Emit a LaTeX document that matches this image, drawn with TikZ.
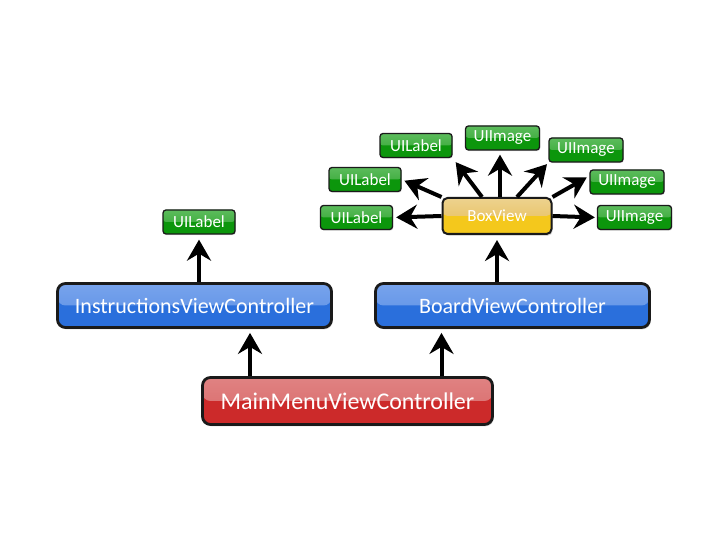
\documentclass[tikz,border=0pt]{standalone}
\usepackage{fontspec}
\setmainfont{Carlito}
\usetikzlibrary{arrows.meta,shadows}
\definecolor{bluetopA}{HTML}{77A3EC}
\definecolor{bluetopB}{HTML}{5A8FE6}
\definecolor{bluebot}{HTML}{2A6FDC}
\definecolor{redtopA}{HTML}{E08282}
\definecolor{redtopB}{HTML}{D86868}
\definecolor{redbot}{HTML}{CC2A2A}
\definecolor{yeltopA}{HTML}{EDD28E}
\definecolor{yeltopB}{HTML}{E6BC52}
\definecolor{yelbot}{HTML}{F4C81C}
\definecolor{grntopA}{HTML}{5CBC5C}
\definecolor{grntopB}{HTML}{2CA42C}
\definecolor{grnbot}{HTML}{0C960C}
\definecolor{edge}{HTML}{1A1A1A}
\tikzset{
  gloss/.style n args={3}{fill=#3,
    path picture={\shade[top color=#1,bottom color=#2]
      (path picture bounding box.north west) rectangle (path picture bounding box.east);}},
  bigbox/.style={draw=edge,line width=2.8pt,rounded corners=8pt,inner sep=0pt,
    text=white,font=\fontsize{22}{24}\selectfont,
    drop shadow={opacity=0.3,shadow xshift=1.2pt,shadow yshift=-1.8pt}},
  smallbox/.style={draw=edge,line width=1.3pt,rounded corners=3pt,inner sep=0pt,
    text=white,font=\fontsize{17}{19}\selectfont,minimum width=72pt,minimum height=24pt,
    gloss={grntopA}{grntopB}{grnbot},
    drop shadow={opacity=0.25,shadow xshift=0.8pt,shadow yshift=-1.2pt}},
  arr/.style={line width=4pt,-{Stealth[length=21pt,width=24pt,inset=7pt]}},
}
\begin{document}
\begin{tikzpicture}[x=1pt,y=1pt]
\useasboundingbox (0,0) rectangle (720,540);
% big nodes
\node[bigbox,minimum width=290pt,minimum height=47pt,gloss={redtopA}{redtopB}{redbot},
  font=\fontsize{24}{26}\selectfont] (main) at (347.5,139) {MainMenuViewController};
\node[bigbox,minimum width=274pt,minimum height=44pt,gloss={bluetopA}{bluetopB}{bluebot}] (instr) at (194.5,234.5) {InstructionsViewController};
\node[bigbox,minimum width=274pt,minimum height=44pt,gloss={bluetopA}{bluetopB}{bluebot}] (board) at (512.5,234.5) {BoardViewController};
\node[bigbox,line width=2pt,rounded corners=5pt,minimum width=109pt,minimum height=36pt,
  gloss={yeltopA}{yeltopB}{yelbot},font=\fontsize{17}{19}\selectfont] (box) at (497,324) {BoxView};
% small nodes
\node[smallbox] (ilab) at (199,318) {UILabel};
\node[smallbox] (l1) at (356.5,322.5) {UILabel};
\node[smallbox] (l2) at (365,360.5) {UILabel};
\node[smallbox] (l3) at (416,394.5) {UILabel};
\node[smallbox,minimum width=74pt] (i1) at (502.5,402) {UIImage};
\node[smallbox,minimum width=74pt] (i2) at (586,390) {UIImage};
\node[smallbox,minimum width=74pt] (i3) at (627,358) {UIImage};
\node[smallbox,minimum width=74pt] (i4) at (634.5,322.5) {UIImage};
% arrows
\draw[arr,shorten >=4pt] ([xshift=-97.5pt]main.north) -- ([xshift=55.5pt]instr.south);
\draw[arr,shorten >=4pt] ([xshift=94pt]main.north) -- ([xshift=-71pt]board.south);
\draw[arr,shorten >=5pt] (instr.north -| ilab.south) -- (ilab.south);
\draw[arr,shorten >=5pt] (board.north -| box.south) -- (box.south);
\draw[arr,shorten >=3pt] (box.west) -- (l1.east);
\draw[arr,shorten >=2pt] (box.east) -- (i4.west);
\draw[arr,shorten >=4pt] ([xshift=3pt]box.north) -- ([xshift=-2.5pt]i1.south);
\draw[arr,shorten >=5pt] ([xshift=-15pt]box.north) -- (l3.south east);
\draw[arr,shorten >=2pt] ([xshift=20pt]box.north) -- (i2.south west);
\draw[arr,shorten >=3pt] (box.north west) -- (l2.east);
\draw[arr,shorten >=3pt] (box.north east) -- ([yshift=6pt]i3.west);
\end{tikzpicture}
\end{document}
